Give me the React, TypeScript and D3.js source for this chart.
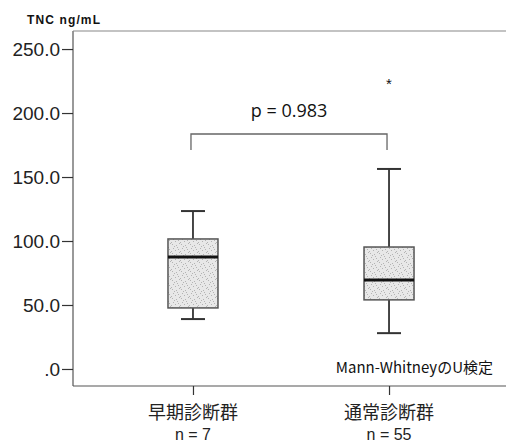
import React, { useRef, useEffect } from 'react';
import * as d3 from 'd3';

// data
const groups = ['早期診断群', '通常診断群'];
const groupN = ['n = 7', 'n = 55'];
const whiskerLow = [39, 28];
const q1 = [47.7, 54];
const median = [87.5, 69.5];
const q3 = [101.6, 95.3];
const whiskerHigh = [123.4, 156.3];
const outliers = [[], [225]];
const yTicks = [0, 50, 100, 150, 200, 250];
const pText = 'p = 0.983';
const testLabel = 'Mann-WhitneyのU検定';
const yTitle = 'TNC ng/mL';

const W = 506;
const H = 443;

export default function App() {
  const svgRef = useRef<SVGSVGElement>(null);

  useEffect(() => {
    draw(svgRef.current);
  }, []);

  return (
    <svg
      ref={svgRef}
      width={W}
      height={H}
      style={{ position: 'absolute', left: 0, top: 0, background: '#fff' }}
    ></svg>
  );
}

function draw(el: SVGSVGElement | null) {
  if (!el) return;
  const svg = d3.select(el);
  svg.selectAll('*').remove();

  const left = 73, right = 509, top = 31, bottom = 386;
  const jp = "'Noto Sans CJK JP', 'Noto Sans', sans-serif";
  const axisFont = "'Liberation Sans', Arial, sans-serif";

  const y = d3.scaleLinear().domain([-13.3, 264.1]).range([bottom, top]);
  const x = d3.scalePoint<string>().domain(groups).range([left, right]).padding(0.612);
  const boxW = 50;
  const capW = 24;

  // stipple fill
  const defs = svg.append('defs');
  const pat = defs.append('pattern')
    .attr('id', 'stipple')
    .attr('patternUnits', 'userSpaceOnUse')
    .attr('width', 9)
    .attr('height', 9);
  pat.append('rect').attr('width', 9).attr('height', 9).attr('fill', '#e8e8e8');
  const dots = [[1, 1], [5, 2], [2, 5], [7, 6], [8, 0], [0, 8], [4, 7], [6, 4], [3, 3]];
  pat.selectAll('rect.d').data(dots).enter().append('rect')
    .attr('class', 'd')
    .attr('x', d => d[0]).attr('y', d => d[1])
    .attr('width', 1).attr('height', 1)
    .attr('fill', '#b4b4b4');

  // frame: left, top, bottom
  const frame = '#555';
  svg.append('line').attr('x1', left).attr('x2', left).attr('y1', top).attr('y2', bottom)
    .attr('stroke', frame).attr('stroke-width', 1.2);
  svg.append('line').attr('x1', left).attr('x2', W).attr('y1', top).attr('y2', top)
    .attr('stroke', '#888').attr('stroke-width', 1.2);
  svg.append('line').attr('x1', left).attr('x2', W).attr('y1', bottom).attr('y2', bottom)
    .attr('stroke', frame).attr('stroke-width', 1.2);

  // y axis
  const yAxis = d3.axisLeft(y)
    .tickValues(yTicks)
    .tickSize(11)
    .tickPadding(2)
    .tickFormat(d => (d === 0 ? '.0' : d3.format('.1f')(d as number)));
  const gy = svg.append('g').attr('transform', `translate(${left},0)`).call(yAxis);
  gy.select('.domain').remove();
  gy.selectAll('.tick line').attr('stroke', '#333').attr('stroke-width', 1.2);
  gy.selectAll('.tick text')
    .attr('fill', '#222')
    .style('font-family', axisFont)
    .style('font-size', '19px');

  // x axis
  const xAxis = d3.axisBottom(x).tickSize(9).tickFormat(() => '');
  const gx = svg.append('g').attr('transform', `translate(0,${bottom})`).call(xAxis);
  gx.select('.domain').remove();
  gx.selectAll('.tick line').attr('stroke', '#333').attr('stroke-width', 1.2);

  groups.forEach((g, i) => {
    svg.append('text')
      .attr('x', x(g)!).attr('y', 419)
      .attr('text-anchor', 'middle')
      .style('font-family', jp).style('font-size', '18px').attr('fill', '#222')
      .text(g);
    svg.append('text')
      .attr('x', x(g)!).attr('y', 440)
      .attr('text-anchor', 'middle')
      .style('font-family', axisFont).style('font-size', '16px').attr('fill', '#222')
      .text(groupN[i]);
  });

  // boxes
  const ink = '#333';
  groups.forEach((g, i) => {
    const cx = x(g)!;
    const gg = svg.append('g');
    gg.append('line').attr('x1', cx).attr('x2', cx)
      .attr('y1', y(whiskerHigh[i])).attr('y2', y(q3[i]))
      .attr('stroke', ink).attr('stroke-width', 1.8);
    gg.append('line').attr('x1', cx).attr('x2', cx)
      .attr('y1', y(q1[i])).attr('y2', y(whiskerLow[i]))
      .attr('stroke', ink).attr('stroke-width', 1.8);
    [whiskerHigh[i], whiskerLow[i]].forEach(v => {
      gg.append('line').attr('x1', cx - capW / 2).attr('x2', cx + capW / 2)
        .attr('y1', y(v)).attr('y2', y(v))
        .attr('stroke', ink).attr('stroke-width', 2);
    });
    gg.append('rect')
      .attr('x', cx - boxW / 2).attr('width', boxW)
      .attr('y', y(q3[i])).attr('height', y(q1[i]) - y(q3[i]))
      .attr('fill', 'url(#stipple)')
      .attr('stroke', '#555').attr('stroke-width', 1.5);
    gg.append('line').attr('x1', cx - boxW / 2).attr('x2', cx + boxW / 2)
      .attr('y1', y(median[i])).attr('y2', y(median[i]))
      .attr('stroke', '#111').attr('stroke-width', 3);
    outliers[i].forEach(v => {
      gg.append('text')
        .attr('x', cx).attr('y', y(v) + 8)
        .attr('text-anchor', 'middle')
        .style('font-family', axisFont).style('font-size', '15px')
        .attr('fill', '#111')
        .text('*');
    });
  });

  // significance bracket
  const bx0 = x(groups[0])! - 2, bx1 = x(groups[1])! - 2;
  const by = 134;
  svg.append('path')
    .attr('d', `M${bx0},${by + 16}V${by}H${bx1}V${by + 16}`)
    .attr('fill', 'none').attr('stroke', '#666').attr('stroke-width', 1.3);
  svg.append('text')
    .attr('x', (bx0 + bx1) / 2).attr('y', 117)
    .attr('text-anchor', 'middle')
    .style('font-family', "'Open Sans', sans-serif").style('font-size', '18px')
    .attr('fill', '#111')
    .text(pText);

  svg.append('text')
    .attr('x', 493).attr('y', 373)
    .attr('text-anchor', 'end')
    .style('font-family', jp).style('font-size', '15px')
    .attr('fill', '#111')
    .text(testLabel);

  svg.append('text')
    .attr('x', 27).attr('y', 24)
    .style('font-family', axisFont).style('font-size', '12px')
    .style('font-weight', 'bold')
    .attr('fill', '#111')
    .attr('textLength', 73)
    .text(yTitle);
}
